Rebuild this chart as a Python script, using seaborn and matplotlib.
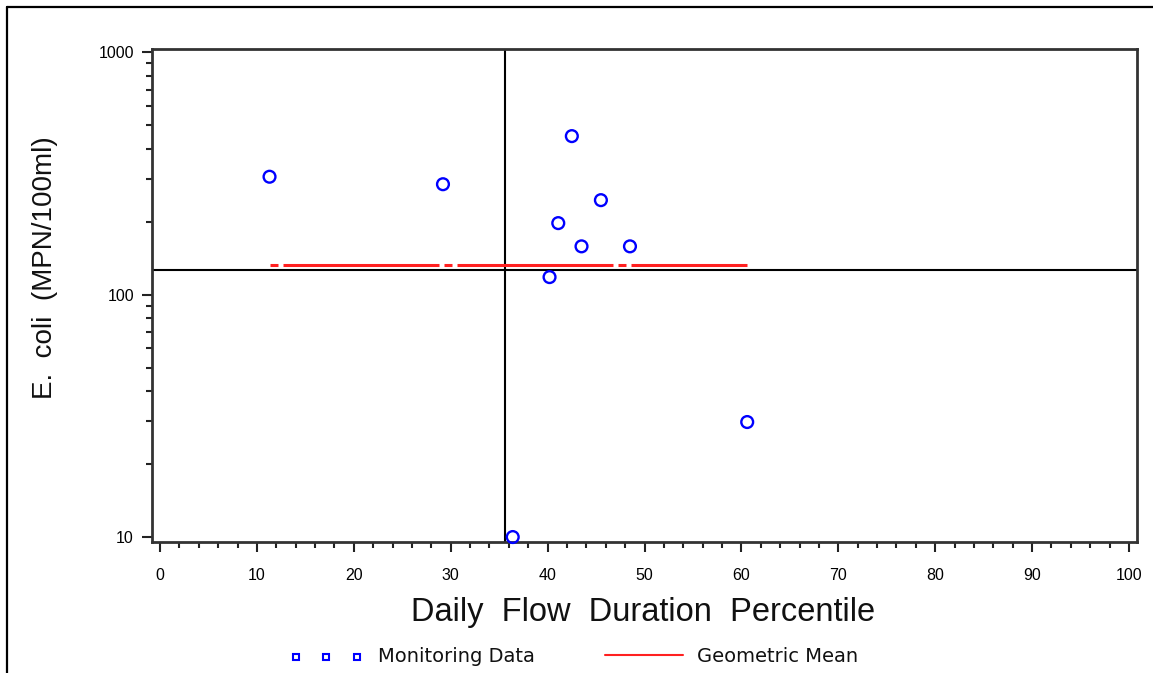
import numpy as np
import pandas as pd
import matplotlib
matplotlib.use("Agg")
import matplotlib.pyplot as plt
from matplotlib.lines import Line2D
from matplotlib.ticker import MultipleLocator, LogLocator, FixedLocator, NullFormatter
import seaborn as sns

# ---- data ----
flow_percentile = [11.3, 29.2, 42.5, 41.1, 45.5, 43.5, 48.5, 40.2, 60.6, 36.4]
ecoli = [306, 285, 450, 197, 245, 158, 158, 118, 29.8, 10]
ref_percentile = 35.6      # vertical reference line
ref_ecoli = 126            # horizontal reference line (standard)
x_ticks = [0, 10, 20, 30, 40, 50, 60, 70, 80, 90, 100]
y_ticks = [10, 100, 1000]
y_tick_labels = ["10", "100", "1000"]
legend_labels = ["Monitoring Data", "Geometric Mean"]

df = pd.DataFrame({"x": flow_percentile, "y": ecoli})
gmean = float(np.exp(np.mean(np.log(df["y"]))))
gm_df = pd.DataFrame({"x": [df["x"].min(), df["x"].max()], "y": [gmean, gmean]})

sns.set_theme(style="white")
plt.rcParams["font.family"] = ["Liberation Sans", "DejaVu Sans"]
plt.rcParams["lines.scale_dashes"] = False

W, H = 1153, 673
fig = plt.figure(figsize=(W / 100, H / 100), dpi=100)
ax = fig.add_axes([152 / W, 1 - 542 / H, (1137 - 152) / W, (542 - 49) / H])

ax.set_yscale("log")
ax.set_xlim(-0.83, 100.83)
ax.set_ylim(9.54, 1029)

px = 1 / 1.3889  # points per pixel at dpi 100
dash = (0, (8 * px, 5 * px, 156 * px, 5 * px))

ax.axvline(ref_percentile, color="black", lw=1.5, zorder=2)
ax.axhline(ref_ecoli, color="black", lw=1.5, zorder=2)

sns.lineplot(data=gm_df, x="x", y="y", ax=ax, color="#ff2020", lw=2.2,
             linestyle=dash, zorder=3, legend=False)
sns.scatterplot(data=df, x="x", y="y", ax=ax, marker="o", s=72,
                facecolor="none", edgecolor="#0000ff", linewidth=1.7,
                zorder=4, clip_on=False, legend=False)

# ticks
ax.xaxis.set_major_locator(FixedLocator(x_ticks))
ax.xaxis.set_minor_locator(MultipleLocator(2))
ax.yaxis.set_major_locator(FixedLocator(y_ticks))
ax.set_yticklabels(y_tick_labels)
ax.yaxis.set_minor_locator(LogLocator(base=10, subs=np.arange(2, 10)))
ax.yaxis.set_minor_formatter(NullFormatter())
ax.tick_params(axis="both", which="major", direction="out", length=7, width=1.5,
               color="#222222", labelsize=11.5, labelcolor="black", bottom=True, left=True)
ax.tick_params(axis="both", which="minor", direction="out", length=4, width=1.5,
               color="#222222", bottom=True, left=True)
ax.tick_params(axis="x", which="major", pad=12)
ax.tick_params(axis="y", which="major", pad=6)

for sp in ax.spines.values():
    sp.set_color("#333333")
    sp.set_linewidth(2)
    sp.set_visible(True)

ax.set_xlabel("")
ax.set_ylabel("")
fig.text(643 / W, 1 - 613 / H, "Daily  Flow  Duration  Percentile", fontsize=23.5,
         ha="center", va="center", color="#111111")
fig.text(45 / W, 1 - 268 / H, "E.  coli  (MPN/100ml)", fontsize=20, rotation=90,
         ha="center", va="center", color="#111111")

# manual legend
ly = 1 - 657 / H
for mx in [296, 326, 357]:
    fig.add_artist(Line2D([mx / W], [ly], marker="s", ms=4.5, mfc="none",
                          mec="#0000ff", mew=1.5, linestyle="none"))
fig.text(378 / W, ly, legend_labels[0], fontsize=14, ha="left", va="center",
         color="#111111", family=["DejaVu Sans"])
fig.add_artist(Line2D([605 / W, 683 / W], [ly + 2 / H, ly + 2 / H], color="#ff2020", lw=1.5))
fig.text(697 / W, ly, legend_labels[1], fontsize=14, ha="left", va="center",
         color="#111111", family=["DejaVu Sans"])

# outer frame (top and left)
fig.add_artist(Line2D([7 / W, 1.0], [1 - 7 / H, 1 - 7 / H], color="black", lw=1.6))
fig.add_artist(Line2D([7 / W, 7 / W], [0, 1 - 7 / H], color="black", lw=1.6))

fig.savefig("out.png", dpi=100)
